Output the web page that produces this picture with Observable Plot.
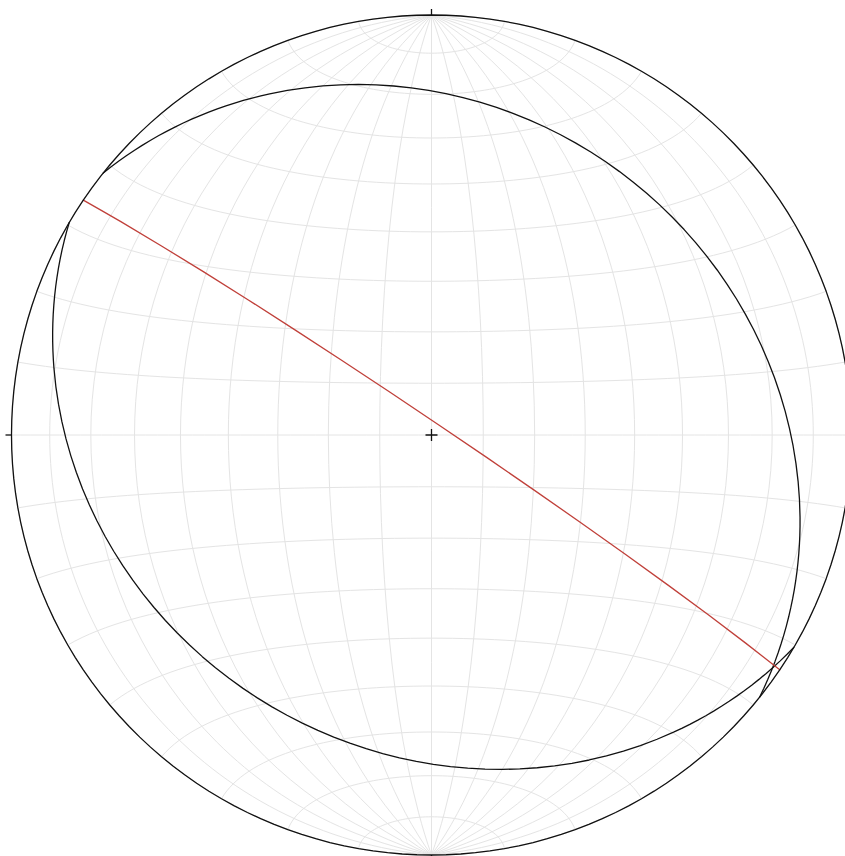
<!DOCTYPE html>
<html><head><meta charset="utf-8">
<script src="https://cdn.jsdelivr.net/npm/d3@7"></script>
<script src="https://cdn.jsdelivr.net/npm/@observablehq/plot@0.6"></script>
<style>body{margin:0;background:#fff}</style>
</head><body><div id="chart"></div>
<script>
// Planes (right-hand-rule strike, dip) read from the net
const planeNames = ["A", "B", "C"];
const strikes = [308.6, 120.4, 304.0];
const dips = [24.0, 25.9, 87.6];
const planeColors = ["#111111", "#111111", "#c0403a"];
// cardinal tick azimuths
const cardinalAz = [0, 90, 180, 270];

const rad = Math.PI / 180;
// azimuth clockwise from north, c = angular distance from net centre
function toLonLat(az, c) {
  const x = Math.cos(c * rad), y = Math.sin(c * rad) * Math.sin(az * rad), z = Math.sin(c * rad) * Math.cos(az * rad);
  return [Math.atan2(y, x) / rad, Math.asin(Math.max(-1, Math.min(1, z))) / rad];
}
const planes = planeNames.map((name, i) => ({
  name, color: planeColors[i],
  geometry: {type: "LineString", coordinates: [
    toLonLat(strikes[i], 90),
    toLonLat(strikes[i] + 90, 90 - dips[i]),
    toLonLat(strikes[i] + 180, 90)
  ]}
}));

const R = 420;
const proj = d3.geoAzimuthalEqualArea()
  .rotate([0, 0])
  .scale(R / Math.SQRT2)
  .translate([431, 434.5])
  .clipAngle(90.001)
  .precision(0.1);

const grid = d3.geoGraticule().extent([[-180, -90], [180, 90]]).step([10, 10])();

const tickSymbol = {draw(ctx) { ctx.moveTo(0, 0); ctx.lineTo(0, -6); }};
const plusSymbol = {draw(ctx) { ctx.moveTo(-6, 0); ctx.lineTo(6, 0); ctx.moveTo(0, -6); ctx.lineTo(0, 6); }};

const chart = Plot.plot({
  width: 845,
  height: 856,
  margin: 0,
  projection: proj,
  style: {background: "#fff"},
  marks: [
    Plot.geo(grid, {stroke: "#e4e4e4", strokeWidth: 1}),
    Plot.geo(planes, {geometry: d => d.geometry, stroke: d => d.color, strokeWidth: 1.3, fill: "none"}),
    Plot.sphere({stroke: "#111", strokeWidth: 1.3}),
    Plot.dot(cardinalAz, {x: a => toLonLat(a, 90)[0], y: a => toLonLat(a, 90)[1], rotate: a => a, symbol: tickSymbol, stroke: "#111", fill: "none", strokeWidth: 1.3}),
    Plot.dot([0], {x: () => 0, y: () => 0, symbol: plusSymbol, stroke: "#111", fill: "none", strokeWidth: 1.3})
  ]
});
document.getElementById("chart").appendChild(chart);
</script>
</body></html>
